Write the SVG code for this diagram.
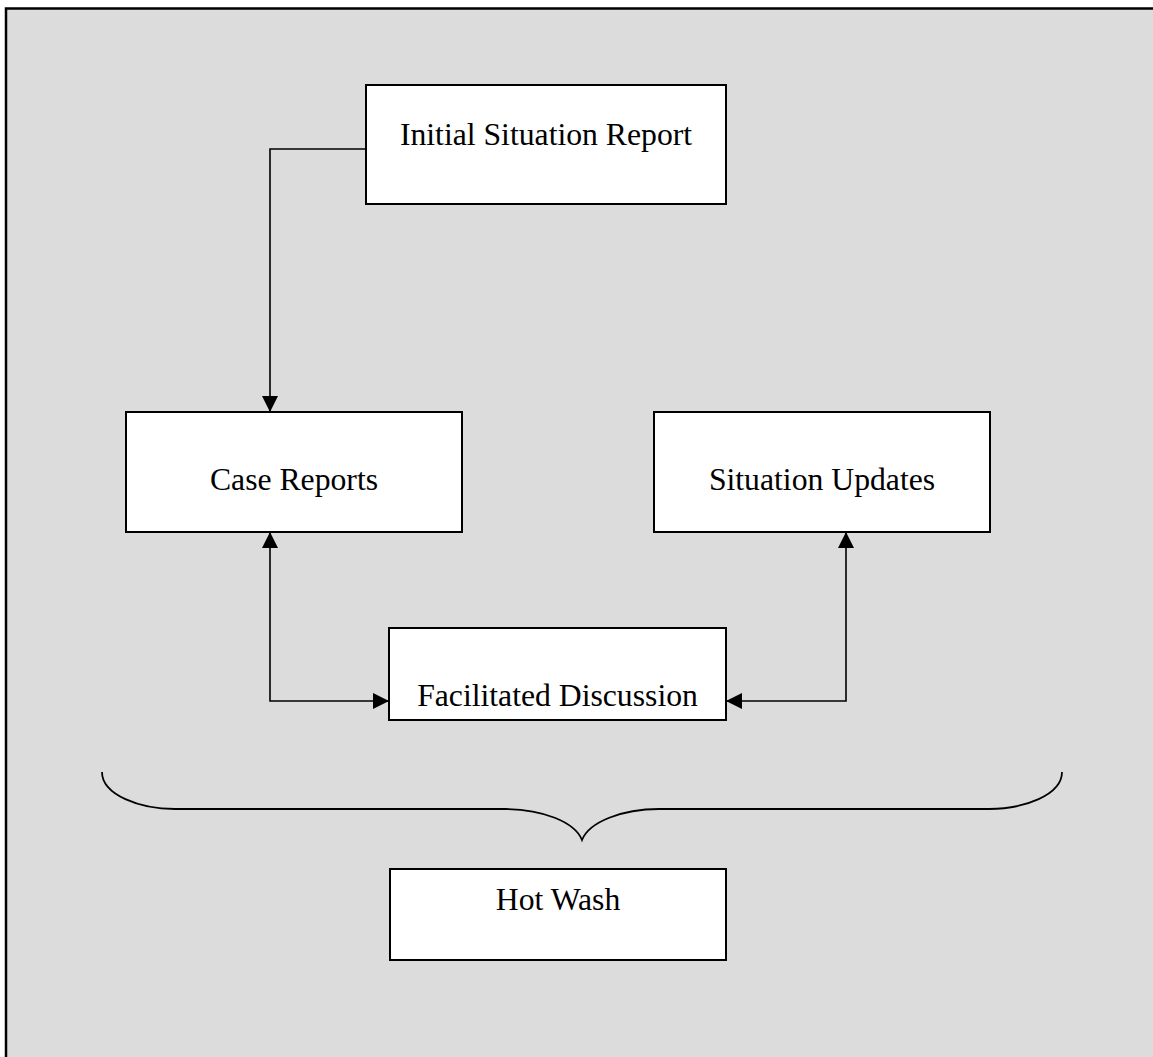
<svg xmlns="http://www.w3.org/2000/svg" width="1153" height="1057" viewBox="0 0 1153 1057">
<style>
.box{fill:#fff;stroke:#000;stroke-width:2}
.lbl{font-family:"Liberation Serif","Times New Roman",serif;font-size:31.7px;fill:#000;text-anchor:middle}
.con{fill:none;stroke:#000;stroke-width:1.6}
</style>
<defs>
<marker id="ah" viewBox="0 0 16 16" refX="16" refY="8" markerWidth="16" markerHeight="16" markerUnits="userSpaceOnUse" orient="auto-start-reverse">
<path d="M0,0 L16,8 L0,16 Z" fill="#000"/>
</marker>
</defs>
<rect x="6" y="8.5" width="1200" height="1100" fill="#dcdcdc" stroke="#000" stroke-width="2.5"/>
<g id="connectors">
<path class="con" d="M366,149 H270 V412" marker-end="url(#ah)"/>
<path class="con" d="M270,532 V701 H389" marker-start="url(#ah)" marker-end="url(#ah)"/>
<path class="con" d="M846,532 V701 H726" marker-start="url(#ah)" marker-end="url(#ah)"/>
</g>
<g id="brace">
<path fill="none" stroke="#000" stroke-width="1.8" d="M102,772 C102,795 140,809 175,809 H505 C542,809 575,822 582,840 C589,822 622,809 659,809 H989 C1024,809 1062,795 1062,772"/>
</g>
<g id="initial">
<rect class="box" x="366" y="85" width="360" height="119"/>
<text class="lbl" x="546" y="145">Initial Situation Report</text>
</g>
<g id="case">
<rect class="box" x="126" y="412" width="336" height="120"/>
<text class="lbl" x="294" y="490">Case Reports</text>
</g>
<g id="updates">
<rect class="box" x="654" y="412" width="336" height="120"/>
<text class="lbl" x="822" y="490">Situation Updates</text>
</g>
<g id="facilitated">
<rect class="box" x="389" y="628" width="337" height="92"/>
<text class="lbl" x="557.5" y="706">Facilitated Discussion</text>
</g>
<g id="hotwash">
<rect class="box" x="390" y="869" width="336" height="91"/>
<text class="lbl" x="558" y="910">Hot Wash</text>
</g>
</svg>
